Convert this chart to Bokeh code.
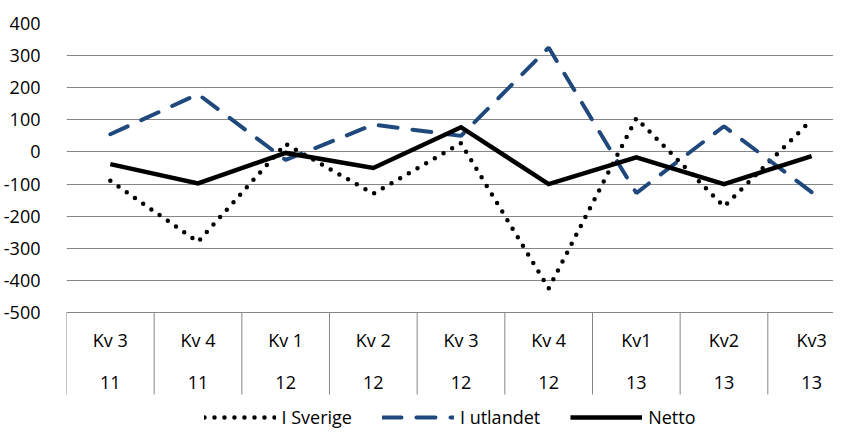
import numpy as np
from bokeh.plotting import figure
from bokeh.models import Range1d, FixedTicker, Legend, LegendItem
from bokeh.core.properties import value
from bokeh.embed import file_html
from bokeh.resources import INLINE

# ---- data ----
quarters = ["Kv 3", "Kv 4", "Kv 1", "Kv 2", "Kv 3", "Kv 4", "Kv1", "Kv2", "Kv3"]
years = ["11", "11", "12", "12", "12", "12", "13", "13", "13"]
i_sverige = [-90, -280, 25, -130, 27, -425, 105, -170, 100]
i_utlandet = [55, 180, -25, 85, 50, 325, -128, 80, -125]
netto = [-38, -98, -3, -50, 77, -100, -17, -100, -13]
y_ticks = list(range(-500, 401, 100))
series_names = ["I Sverige", "I utlandet", "Netto"]

# ---- layout ----
W, H = 833, 429
LEFT, TOP = 60, 23
frame_w = W - LEFT
frame_h = H - TOP
cat_px = 88.35
px_per_unit = 289.0 / 900.0
y_top = 400
y_bottom = y_top - frame_h / px_per_unit


def y_at(px_from_top):
    return y_top - px_from_top / px_per_unit


FONT = "Open Sans"
FS = "18px"
GRID = "#868686"
BLUE = "#1F497D"

p = figure(width=W, height=H,
           x_range=Range1d(0, frame_w / cat_px),
           y_range=Range1d(y_bottom, y_top),
           x_axis_type=None,
           output_backend="svg", toolbar_location=None,
           min_border_left=LEFT, min_border_top=TOP,
           min_border_right=0, min_border_bottom=0)
p.outline_line_color = None
p.background_fill_color = "white"
p.border_fill_color = "white"

p.yaxis.ticker = FixedTicker(ticks=y_ticks)
p.yaxis.major_label_overrides = {t: str(t) for t in y_ticks}
p.yaxis.axis_line_color = None
p.yaxis.major_tick_line_color = None
p.yaxis.minor_tick_line_color = None
p.yaxis.major_label_standoff = 20
p.yaxis.major_label_text_font = FONT
p.yaxis.major_label_text_font_size = FS
p.yaxis.major_label_text_color = "#000000"

p.ygrid.ticker = FixedTicker(ticks=y_ticks)
p.ygrid.grid_line_color = GRID
p.ygrid.grid_line_width = 1
p.xgrid.visible = False

n = len(quarters)
xc = np.arange(n) + 0.5
bounds = np.arange(n + 1)

# category box separators
p.segment(x0=bounds, y0=[y_ticks[0]] * (n + 1), x1=bounds,
          y1=[y_at(371)] * (n + 1), line_color=GRID, line_width=1)

p.text(x=xc, y=[y_at(316)] * n, text=quarters, text_align="center",
       text_baseline="middle", text_font=value(FONT),
       text_font_size=FS, text_color="#000000")
p.text(x=xc, y=[y_at(359)] * n, text=years, text_align="center",
       text_baseline="middle", text_font=value(FONT),
       text_font_size=FS, text_color="#000000")

r1 = p.line(xc, i_sverige, line_color="#000000", line_width=4.5,
            line_dash="0 10", line_cap="round")
r2 = p.line(xc, i_utlandet, line_color=BLUE, line_width=4,
            line_dash="19 15", line_cap="round")
r3 = p.line(xc, netto, line_color="#000000", line_width=4.5,
            line_join="miter")

legend = Legend(items=[LegendItem(label=series_names[0], renderers=[r1]),
                       LegendItem(label=series_names[1], renderers=[r2]),
                       LegendItem(label=series_names[2], renderers=[r3])],
                orientation="horizontal", location="bottom_center",
                glyph_width=72, glyph_height=20, label_height=20,
                label_standoff=6, spacing=30, padding=0, margin=0,
                border_line_color=None, background_fill_alpha=0,
                label_text_font=FONT, label_text_font_size=FS,
                label_text_color="#000000")
p.add_layout(legend)

open("out.html", "w").write(file_html(p, INLINE))
